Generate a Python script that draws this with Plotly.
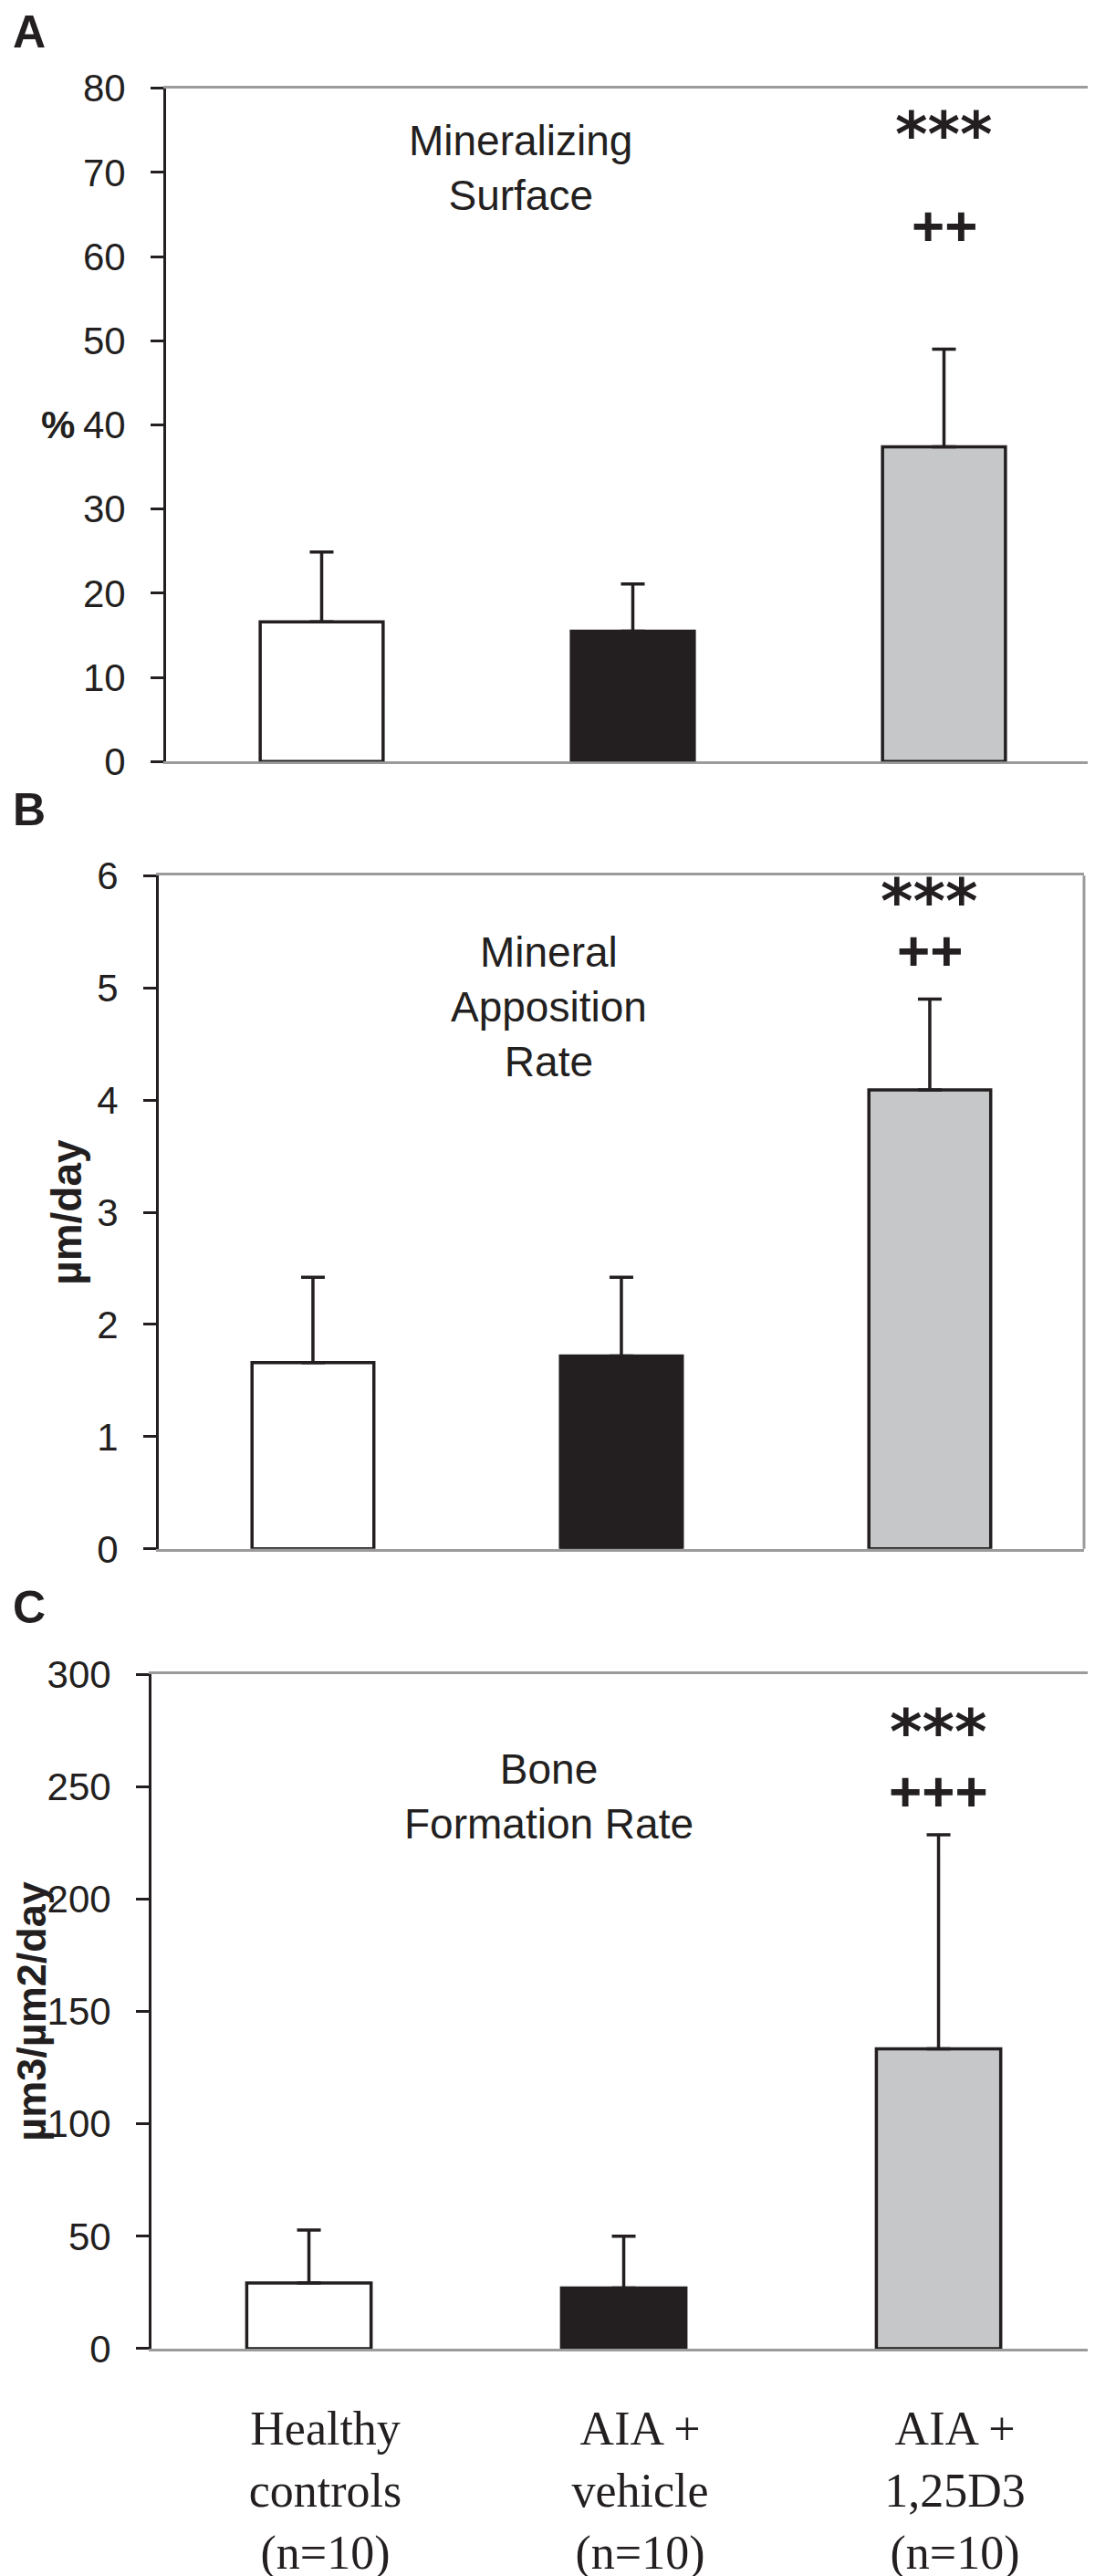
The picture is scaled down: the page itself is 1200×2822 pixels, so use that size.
import plotly.graph_objects as go
from plotly.subplots import make_subplots

# groups (x categories)
groups = ["Healthy controls", "AIA + vehicle", "AIA + 1,25D3"]
group_labels = ["Healthy<br>controls<br>(n=10)", "AIA +<br>vehicle<br>(n=10)", "AIA +<br>1,25D3<br>(n=10)"]

# panel A: mineralizing surface (%)
ms_mean = [16.6, 15.5, 37.4]
ms_sd = [8.3, 5.6, 11.6]
ms_stars = ["", "", "***"]
ms_plus = ["", "", "++"]

# panel B: mineral apposition rate (um/day)
mar_mean = [1.66, 1.72, 4.09]
mar_sd = [0.76, 0.70, 0.81]
mar_stars = ["", "", "***"]
mar_plus = ["", "", "++"]

# panel C: bone formation rate (um3/um2/day)
bfr_mean = [29.2, 27.0, 133.4]
bfr_sd = [23.6, 23.0, 95.3]
bfr_stars = ["", "", "***"]
bfr_plus = ["", "", "+++"]

DARK = "#231f20"
GREY_LINE = "#9b9b9b"
bar_colors = ["#ffffff", DARK, "#c6c7c9"]
SANS = "Liberation Sans, Arial, sans-serif"

panels = [
    dict(mean=ms_mean, sd=ms_sd, stars=ms_stars, plus=ms_plus, yrange=[0, 80], dtick=10,
         title="Mineralizing<br>Surface", title_pos=(0.38, 0.882),
         letter="A", letter_y=None,
         ytitle="%", ytitle_x=0.046, ytitle_angle=0, ytitle_size=42,
         star_y=0.931, plus_y=0.796,
         xdom=[0.145, 0.9975], ydom=[0.7105, 0.9763]),
    dict(mean=mar_mean, sd=mar_sd, stars=mar_stars, plus=mar_plus, yrange=[0, 6], dtick=1,
         title="Mineral<br>Apposition<br>Rate", title_pos=(0.422, 0.805),
         letter="B", letter_y=0.6914,
         ytitle="µm/day", ytitle_x=0.054, ytitle_angle=-90, ytitle_size=46,
         star_y=0.962, plus_y=0.888,
         xdom=[0.1383, 0.9833], ydom=[0.3997, 0.6655]),
    dict(mean=bfr_mean, sd=bfr_sd, stars=bfr_stars, plus=bfr_plus, yrange=[0, 300], dtick=50,
         title="Bone<br>Formation Rate", title_pos=(0.421, 0.819),
         letter="C", letter_y=0.3764,
         ytitle="µm3/µm2/day", ytitle_x=0.0225, ytitle_angle=-90, ytitle_size=45,
         star_y=0.914, plus_y=0.826,
         xdom=[0.1317, 0.9942], ydom=[0.084, 0.3501]),
]

fig = make_subplots(rows=3, cols=1)

for i, p in enumerate(panels):
    row = i + 1
    sfx = "" if i == 0 else str(row)
    fig.add_trace(go.Bar(
        x=groups, y=p["mean"],
        width=0.395,
        marker=dict(color=bar_colors, line=dict(color=DARK, width=3.5)),
        error_y=dict(type="data", symmetric=False, array=p["sd"], arrayminus=[0, 0, 0],
                     color=DARK, thickness=3.5, width=13),
        showlegend=False,
    ), row=row, col=1)

    fig.update_xaxes(
        domain=p["xdom"], range=[-0.5, 2.5],
        showline=True, linecolor=GREY_LINE, linewidth=3, mirror=True,
        ticks="", showgrid=False, zeroline=False, layer="below traces",
        showticklabels=(row == 3),
        tickmode="array", tickvals=groups, ticktext=group_labels,
        tickfont=dict(family="Liberation Serif, Times New Roman, serif", size=52, color=DARK),
        ticklabelstandoff=40, ticklabelshift=18,
        row=row, col=1)
    fig.update_yaxes(
        domain=p["ydom"], range=p["yrange"], dtick=p["dtick"],
        showline=True, linecolor=DARK, linewidth=3, mirror=False,
        ticks="outside", ticklen=14, tickwidth=2.5, tickcolor=DARK,
        showgrid=False, zeroline=False,
        tickfont=dict(family=SANS, size=42, color=DARK),
        ticklabelstandoff=19,
        row=row, col=1)

    # right border of the box
    fig.add_shape(type="line", xref=f"x{sfx} domain", yref=f"y{sfx} domain",
                  x0=1, x1=1, y0=0, y1=1, line=dict(color=GREY_LINE, width=3))

    # panel title inside the box
    fig.add_annotation(text=p["title"], xref=f"x{sfx} domain", yref=f"y{sfx} domain",
                       x=p["title_pos"][0], y=p["title_pos"][1], showarrow=False,
                       xanchor="center", yanchor="middle",
                       font=dict(family=SANS, size=46, color=DARK), align="center")

    # significance marks above the bars
    for g, s, q in zip(groups, p["stars"], p["plus"]):
        if s:
            fig.add_annotation(text=s, xref=f"x{sfx}", yref=f"y{sfx} domain", x=g, y=p["star_y"],
                               showarrow=False, xanchor="center", yanchor="middle",
                               font=dict(family="DejaVu Sans", size=68, color=DARK, weight="bold"))
        if q:
            fig.add_annotation(text=q, xref=f"x{sfx}", yref=f"y{sfx} domain", x=g, y=p["plus_y"],
                               showarrow=False, xanchor="center", yanchor="middle",
                               font=dict(family=SANS, size=62, color=DARK, weight="bold"))

    # panel letter (A sits at the very top, drawn as the layout title)
    if p["letter_y"] is not None:
        fig.add_annotation(text=f"<b>{p['letter']}</b>", xref="paper", yref="paper",
                           x=0.02, y=p["letter_y"], showarrow=False,
                           xanchor="center", yanchor="middle",
                           font=dict(family=SANS, size=50, color=DARK))

    # y-axis title
    fig.add_annotation(text=f"<b>{p['ytitle']}</b>", xref="paper", yref=f"y{sfx} domain",
                       x=p["ytitle_x"], y=0.5, showarrow=False, textangle=p["ytitle_angle"],
                       xanchor="center", yanchor="middle",
                       font=dict(family=SANS, size=p["ytitle_size"], color=DARK))

fig.update_layout(
    title=dict(text="<b>A</b>", x=0.02, xanchor="center", y=1 - 26 / 2822, yanchor="middle",
               font=dict(family=SANS, size=50, color=DARK)),
    width=1200, height=2822,
    margin=dict(l=0, r=0, t=0, b=0),
    plot_bgcolor="white", paper_bgcolor="white",
    showlegend=False, bargap=0.6,
)

fig.write_html("out.html")
